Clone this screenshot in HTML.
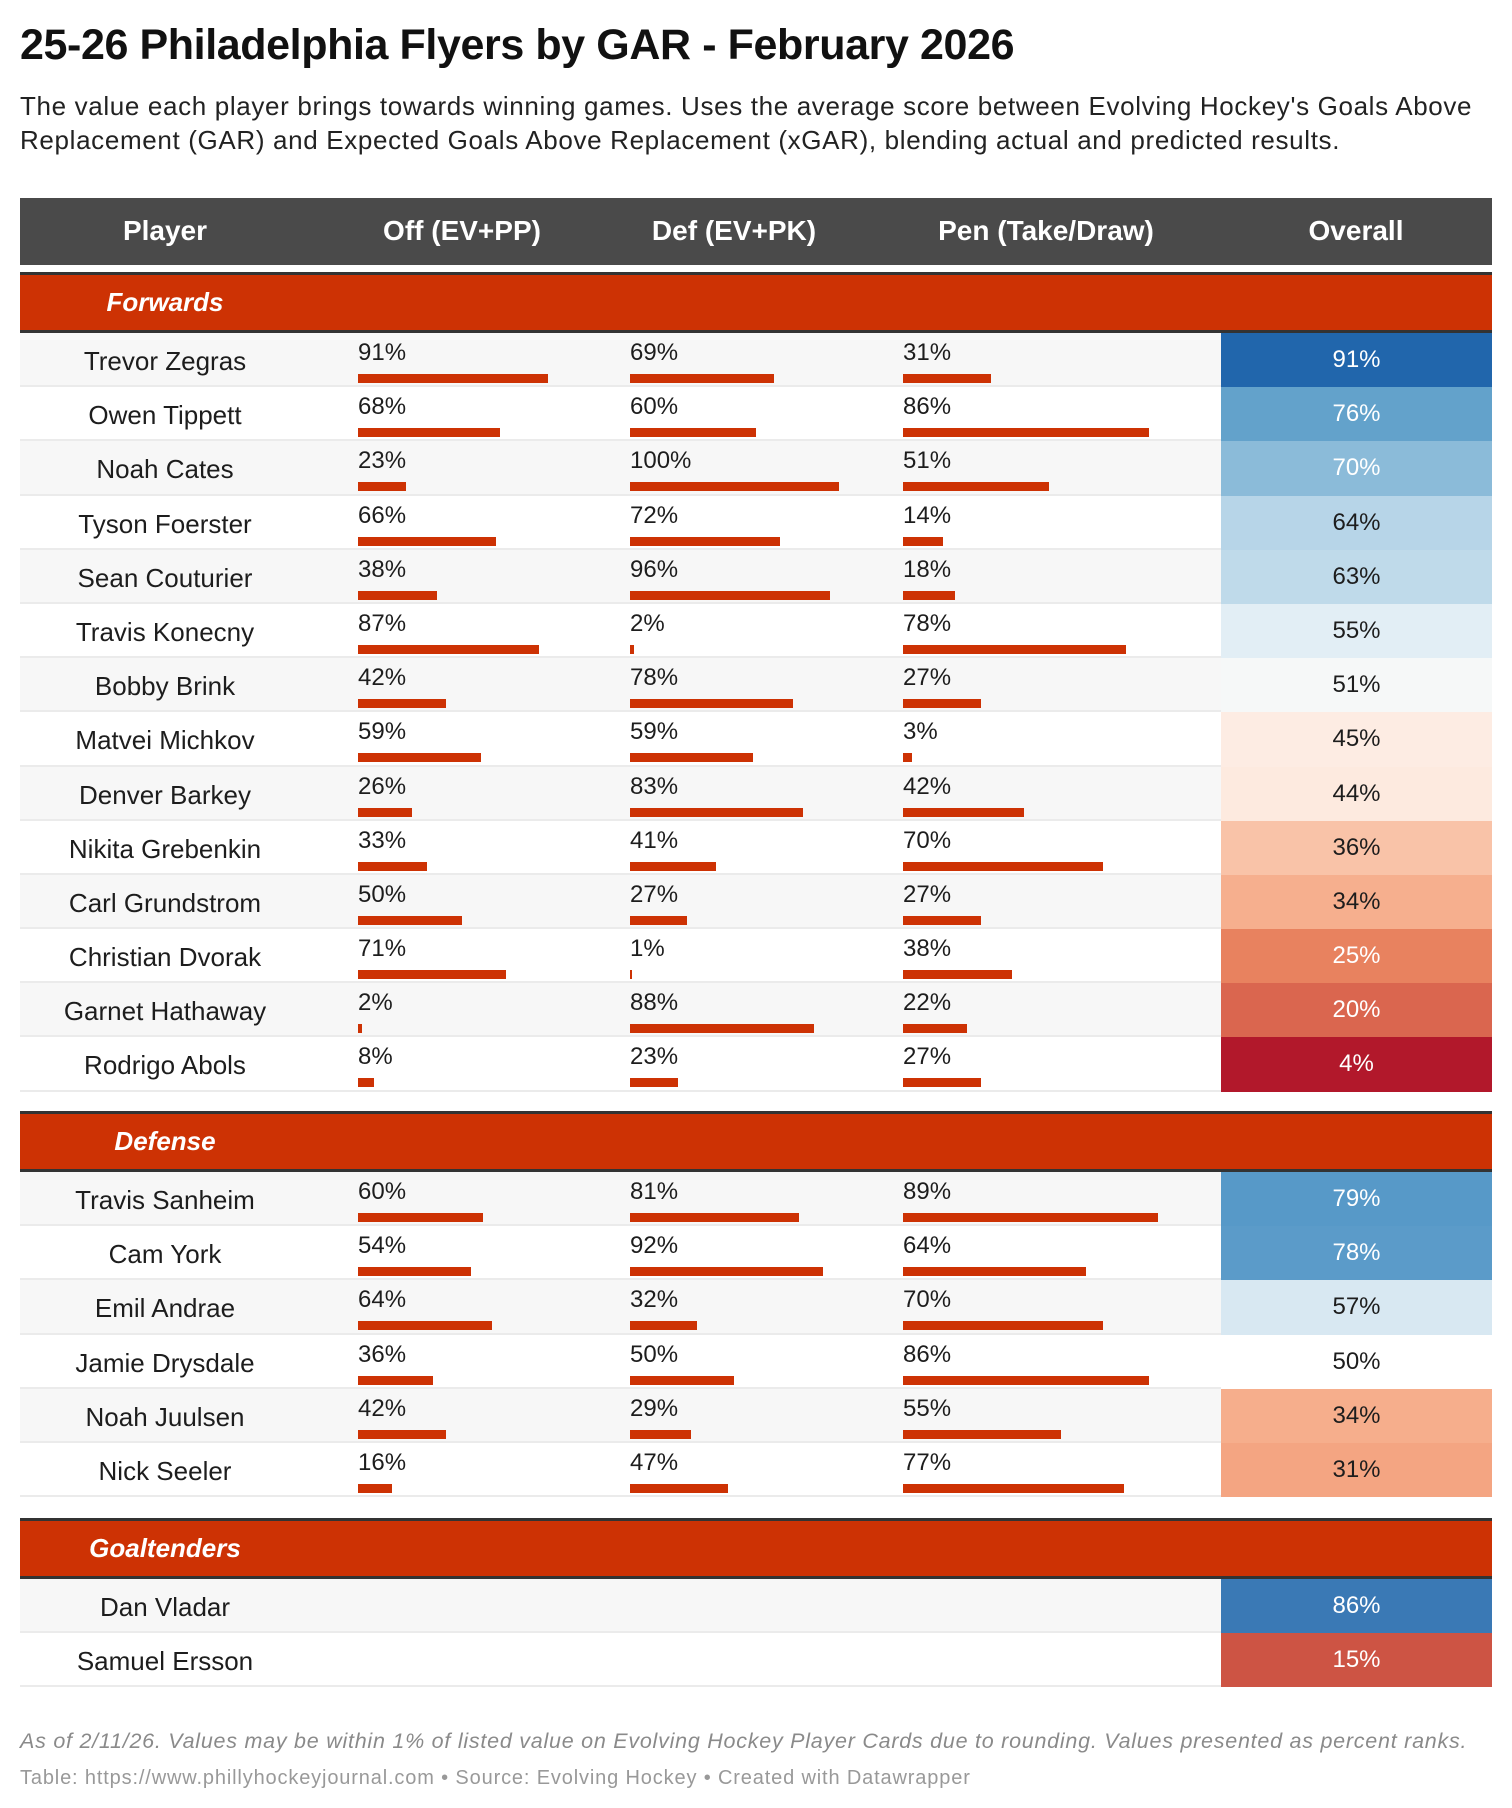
<!DOCTYPE html>
<html><head><meta charset="utf-8"><style>
*{margin:0;padding:0;box-sizing:border-box}
body{width:1512px;height:1808px;background:#fff;font-family:"Liberation Sans",sans-serif;color:#1d1d1d;position:relative;overflow:hidden}
h1{position:absolute;left:20px;top:21px;font-size:43px;font-weight:bold;letter-spacing:-0.4px;color:#111;white-space:nowrap}
.sub{position:absolute;left:20px;top:89px;font-size:26px;line-height:34px;color:#222;white-space:nowrap;letter-spacing:0.65px}
.hdr{position:absolute;left:20px;top:198px;width:1472px;height:67px;background:#4a4a4a;color:#fff;font-weight:bold;font-size:28px}
.hdr span{position:absolute;top:17px;transform:translateX(-50%);white-space:nowrap}
.sec{position:absolute;left:20px;width:1472px;height:61px;background:#cd3204;border-top:3px solid #333;border-bottom:3px solid #333}
.sec span{position:absolute;left:145px;top:12px;transform:translateX(-50%);color:#fff;font-weight:bold;font-style:italic;font-size:26px;white-space:nowrap}
.rows{position:absolute;left:20px;width:1472px}
.r{position:relative;height:54.2px;border-bottom:2px solid #ebebeb}
.r:nth-child(odd){background:#f7f7f7}
.r .n{position:absolute;left:145px;top:13px;transform:translateX(-50%);font-size:26px;white-space:nowrap}
.r .p{position:absolute;top:6px;font-size:24px}
.r .b{position:absolute;top:41px;height:9px;background:#cd3204}
.r .o{position:absolute;left:1201px;top:0;width:271px;height:54.2px;text-align:center;font-size:24px;line-height:54px}
.w{color:#fff}
.foot1{position:absolute;left:20px;top:1729px;font-size:21.5px;font-style:italic;color:#8a8a8a;white-space:nowrap;letter-spacing:0.75px}
.foot2{position:absolute;left:20px;top:1767px;font-size:20px;color:#999;white-space:nowrap;letter-spacing:0.85px}
</style></head><body>
<h1>25-26 Philadelphia Flyers by GAR - February 2026</h1>
<div class="sub">The value each player brings towards winning games. Uses the average score between Evolving Hockey's Goals Above<br>Replacement (GAR) and Expected Goals Above Replacement (xGAR), blending actual and predicted results.</div>
<div class="hdr"><span style="left:145px">Player</span><span style="left:442px">Off (EV+PP)</span><span style="left:714px">Def (EV+PK)</span><span style="left:1026px">Pen (Take/Draw)</span><span style="left:1336px">Overall</span></div>

<div class="sec" style="top:272px"><span>Forwards</span></div>
<div class="rows" style="top:333px">
<div class="r"><div class="n">Trevor Zegras</div><div class="p" style="left:338px">91%</div><div class="b" style="left:338px;width:190px"></div><div class="p" style="left:610px">69%</div><div class="b" style="left:610px;width:144px"></div><div class="p" style="left:883px">31%</div><div class="b" style="left:883px;width:88px"></div><div class="o w" style="background:#2166ac">91%</div></div>
<div class="r"><div class="n">Owen Tippett</div><div class="p" style="left:338px">68%</div><div class="b" style="left:338px;width:142px"></div><div class="p" style="left:610px">60%</div><div class="b" style="left:610px;width:126px"></div><div class="p" style="left:883px">86%</div><div class="b" style="left:883px;width:246px"></div><div class="o w" style="background:#63a2cb">76%</div></div>
<div class="r"><div class="n">Noah Cates</div><div class="p" style="left:338px">23%</div><div class="b" style="left:338px;width:48px"></div><div class="p" style="left:610px">100%</div><div class="b" style="left:610px;width:209px"></div><div class="p" style="left:883px">51%</div><div class="b" style="left:883px;width:146px"></div><div class="o w" style="background:#8bbbd9">70%</div></div>
<div class="r"><div class="n">Tyson Foerster</div><div class="p" style="left:338px">66%</div><div class="b" style="left:338px;width:138px"></div><div class="p" style="left:610px">72%</div><div class="b" style="left:610px;width:150px"></div><div class="p" style="left:883px">14%</div><div class="b" style="left:883px;width:40px"></div><div class="o" style="background:#b7d5e8">64%</div></div>
<div class="r"><div class="n">Sean Couturier</div><div class="p" style="left:338px">38%</div><div class="b" style="left:338px;width:79px"></div><div class="p" style="left:610px">96%</div><div class="b" style="left:610px;width:200px"></div><div class="p" style="left:883px">18%</div><div class="b" style="left:883px;width:52px"></div><div class="o" style="background:#bfdaea">63%</div></div>
<div class="r"><div class="n">Travis Konecny</div><div class="p" style="left:338px">87%</div><div class="b" style="left:338px;width:181px"></div><div class="p" style="left:610px">2%</div><div class="b" style="left:610px;width:4px"></div><div class="p" style="left:883px">78%</div><div class="b" style="left:883px;width:223px"></div><div class="o" style="background:#e2eef5">55%</div></div>
<div class="r"><div class="n">Bobby Brink</div><div class="p" style="left:338px">42%</div><div class="b" style="left:338px;width:88px"></div><div class="p" style="left:610px">78%</div><div class="b" style="left:610px;width:163px"></div><div class="p" style="left:883px">27%</div><div class="b" style="left:883px;width:78px"></div><div class="o" style="background:#f6f8f8">51%</div></div>
<div class="r"><div class="n">Matvei Michkov</div><div class="p" style="left:338px">59%</div><div class="b" style="left:338px;width:123px"></div><div class="p" style="left:610px">59%</div><div class="b" style="left:610px;width:123px"></div><div class="p" style="left:883px">3%</div><div class="b" style="left:883px;width:9px"></div><div class="o" style="background:#fdece3">45%</div></div>
<div class="r"><div class="n">Denver Barkey</div><div class="p" style="left:338px">26%</div><div class="b" style="left:338px;width:54px"></div><div class="p" style="left:610px">83%</div><div class="b" style="left:610px;width:173px"></div><div class="p" style="left:883px">42%</div><div class="b" style="left:883px;width:121px"></div><div class="o" style="background:#fdeadf">44%</div></div>
<div class="r"><div class="n">Nikita Grebenkin</div><div class="p" style="left:338px">33%</div><div class="b" style="left:338px;width:69px"></div><div class="p" style="left:610px">41%</div><div class="b" style="left:610px;width:86px"></div><div class="p" style="left:883px">70%</div><div class="b" style="left:883px;width:200px"></div><div class="o" style="background:#f9c3a8">36%</div></div>
<div class="r"><div class="n">Carl Grundstrom</div><div class="p" style="left:338px">50%</div><div class="b" style="left:338px;width:104px"></div><div class="p" style="left:610px">27%</div><div class="b" style="left:610px;width:57px"></div><div class="p" style="left:883px">27%</div><div class="b" style="left:883px;width:78px"></div><div class="o" style="background:#f6af8e">34%</div></div>
<div class="r"><div class="n">Christian Dvorak</div><div class="p" style="left:338px">71%</div><div class="b" style="left:338px;width:148px"></div><div class="p" style="left:610px">1%</div><div class="b" style="left:610px;width:2px"></div><div class="p" style="left:883px">38%</div><div class="b" style="left:883px;width:109px"></div><div class="o w" style="background:#e8825f">25%</div></div>
<div class="r"><div class="n">Garnet Hathaway</div><div class="p" style="left:338px">2%</div><div class="b" style="left:338px;width:4px"></div><div class="p" style="left:610px">88%</div><div class="b" style="left:610px;width:184px"></div><div class="p" style="left:883px">22%</div><div class="b" style="left:883px;width:64px"></div><div class="o w" style="background:#da664f">20%</div></div>
<div class="r"><div class="n">Rodrigo Abols</div><div class="p" style="left:338px">8%</div><div class="b" style="left:338px;width:16px"></div><div class="p" style="left:610px">23%</div><div class="b" style="left:610px;width:48px"></div><div class="p" style="left:883px">27%</div><div class="b" style="left:883px;width:78px"></div><div class="o w" style="background:#b2182b">4%</div></div>
</div>

<div class="sec" style="top:1111px"><span>Defense</span></div>
<div class="rows" style="top:1172px">
<div class="r"><div class="n">Travis Sanheim</div><div class="p" style="left:338px">60%</div><div class="b" style="left:338px;width:125px"></div><div class="p" style="left:610px">81%</div><div class="b" style="left:610px;width:169px"></div><div class="p" style="left:883px">89%</div><div class="b" style="left:883px;width:255px"></div><div class="o w" style="background:#5799c8">79%</div></div>
<div class="r"><div class="n">Cam York</div><div class="p" style="left:338px">54%</div><div class="b" style="left:338px;width:113px"></div><div class="p" style="left:610px">92%</div><div class="b" style="left:610px;width:193px"></div><div class="p" style="left:883px">64%</div><div class="b" style="left:883px;width:183px"></div><div class="o w" style="background:#5b9bc9">78%</div></div>
<div class="r"><div class="n">Emil Andrae</div><div class="p" style="left:338px">64%</div><div class="b" style="left:338px;width:134px"></div><div class="p" style="left:610px">32%</div><div class="b" style="left:610px;width:67px"></div><div class="p" style="left:883px">70%</div><div class="b" style="left:883px;width:200px"></div><div class="o" style="background:#d8e8f2">57%</div></div>
<div class="r"><div class="n">Jamie Drysdale</div><div class="p" style="left:338px">36%</div><div class="b" style="left:338px;width:75px"></div><div class="p" style="left:610px">50%</div><div class="b" style="left:610px;width:104px"></div><div class="p" style="left:883px">86%</div><div class="b" style="left:883px;width:246px"></div><div class="o" style="background:#ffffff">50%</div></div>
<div class="r"><div class="n">Noah Juulsen</div><div class="p" style="left:338px">42%</div><div class="b" style="left:338px;width:88px"></div><div class="p" style="left:610px">29%</div><div class="b" style="left:610px;width:61px"></div><div class="p" style="left:883px">55%</div><div class="b" style="left:883px;width:158px"></div><div class="o" style="background:#f6ae8c">34%</div></div>
<div class="r"><div class="n">Nick Seeler</div><div class="p" style="left:338px">16%</div><div class="b" style="left:338px;width:34px"></div><div class="p" style="left:610px">47%</div><div class="b" style="left:610px;width:98px"></div><div class="p" style="left:883px">77%</div><div class="b" style="left:883px;width:221px"></div><div class="o" style="background:#f4a582">31%</div></div>
</div>

<div class="sec" style="top:1518px"><span>Goaltenders</span></div>
<div class="rows" style="top:1579px">
<div class="r"><div class="n">Dan Vladar</div><div class="o w" style="background:#3a79b5">86%</div></div>
<div class="r"><div class="n">Samuel Ersson</div><div class="o w" style="background:#cd5444">15%</div></div>
</div>

<div class="foot1">As of 2/11/26. Values may be within 1% of listed value on Evolving Hockey Player Cards due to rounding. Values presented as percent ranks.</div>
<div class="foot2">Table: https://www.phillyhockeyjournal.com • Source: Evolving Hockey • Created with Datawrapper</div>
</body></html>
